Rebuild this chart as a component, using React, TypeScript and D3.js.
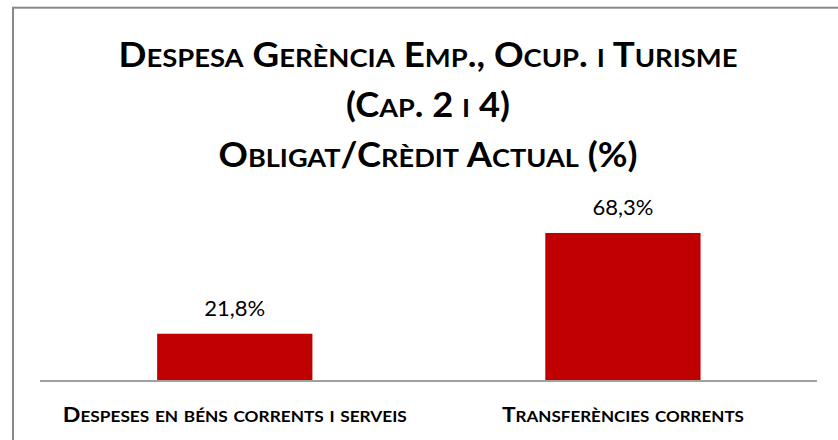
import React from "react";
import * as d3 from "d3";

// Chart data
const categories: string[] = ["Despeses en béns corrents i serveis", "Transferències corrents"];
const values: number[] = [21.8, 68.3];
const titleLines: string[] = ["Despesa Gerència Emp., Ocup. i Turisme", "(Cap. 2 i 4)", "Obligat/Crèdit Actual (%)"];
const yMax = 80;

const W = 838;
const H = 440;
const FONT = "Lato, 'Open Sans', sans-serif";

// Renders a string in small caps: capitals at full size, lowercase letters as smaller capitals
function smallCaps(text: string, big: number, small: number) {
  const parts: { s: string; lower: boolean }[] = [];
  for (const ch of text) {
    const lower = ch !== ch.toUpperCase();
    const last = parts[parts.length - 1];
    if (last && last.lower === lower) last.s += ch;
    else parts.push({ s: ch, lower });
  }
  return parts.map((p, i) => (
    <tspan key={i} fontSize={p.lower ? small : big}>
      {p.lower ? p.s.toUpperCase() : p.s}
    </tspan>
  ));
}

export default function App() {
  const x = d3
    .scaleBand<string>()
    .domain(categories)
    .range([40.7, 817])
    .paddingInner(0.6)
    .paddingOuter(0.3);
  const y = d3.scaleLinear().domain([0, yMax]).range([381, 207.6]);

  const fmt = (v: number) => d3.format(".1f")(v).replace(".", ",") + "%";

  const titleBaselines = [66.7, 116.7, 167];
  const titleWidths = [619, 164, 419];
  const labelWidths = [344, 242];

  return (
    <svg
      width={W}
      height={H}
      style={{ position: "absolute", left: 0, top: 0, background: "#fff" }}
      fontFamily={FONT}
    >
      <rect x={0} y={0} width={W} height={H} fill="#fff" />
      <rect x={13} y={7.7} width={W + 20} height={H + 20} fill="none" stroke="#888" strokeWidth={2} />

      {titleLines.map((t, i) => (
        <text
          key={t}
          x={428}
          y={titleBaselines[i]}
          textAnchor="middle"
          fontWeight="bold"
          fill="#000"
          textLength={titleWidths[i]}
          lengthAdjust="spacingAndGlyphs"
        >
          {smallCaps(t, 33.5, 25)}
        </text>
      ))}

      {categories.map((c, i) => (
        <rect
          key={c}
          x={x(c)!}
          y={y(values[i])}
          width={x.bandwidth()}
          height={y(0) - y(values[i])}
          fill="#C00000"
        />
      ))}

      <line x1={40} x2={817} y1={y(0)} y2={y(0)} stroke="#a0a0a0" strokeWidth={1.8} />

      {categories.map((c, i) => (
        <text
          key={c + "v"}
          x={x(c)! + x.bandwidth() / 2}
          y={y(values[i]) - 18}
          textAnchor="middle"
          fontSize={21.5}
          fill="#000"
          textLength={61}
          lengthAdjust="spacingAndGlyphs"
        >
          {fmt(values[i])}
        </text>
      ))}

      {categories.map((c, i) => (
        <text
          key={c + "l"}
          x={x(c)! + x.bandwidth() / 2}
          y={421.7}
          textAnchor="middle"
          fontWeight="bold"
          fill="#000"
          textLength={labelWidths[i]}
          lengthAdjust="spacingAndGlyphs"
        >
          {smallCaps(c, 21.5, 16)}
        </text>
      ))}
    </svg>
  );
}
